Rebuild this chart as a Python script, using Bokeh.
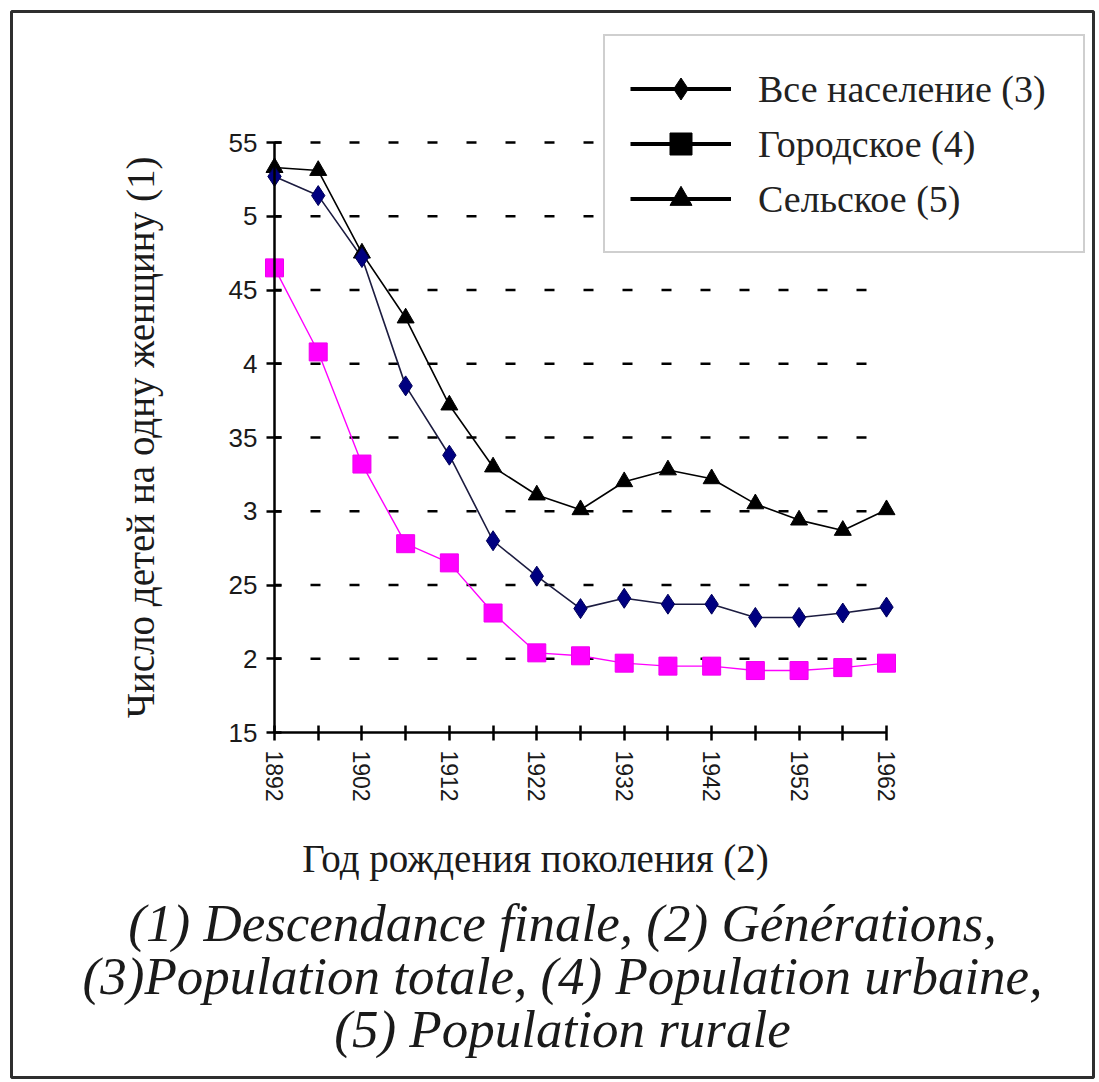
import math
from bokeh.plotting import figure
from bokeh.models import (Range1d, LinearAxis, FixedTicker, Label, Legend, LegendItem,
                          BoxAnnotation)
from bokeh.embed import file_html
from bokeh.resources import INLINE

# ---------------- data ----------------
years = [1892, 1897, 1902, 1907, 1912, 1917, 1922, 1927, 1932, 1937, 1942, 1947, 1952, 1957, 1962]
total = [5.27, 5.14, 4.72, 3.85, 3.38, 2.80, 2.56, 2.34, 2.41, 2.37, 2.37, 2.28, 2.28, 2.31, 2.35]
urban = [4.65, 4.08, 3.32, 2.78, 2.65, 2.31, 2.04, 2.02, 1.97, 1.95, 1.95, 1.92, 1.92, 1.94, 1.97]
rural = [5.33, 5.31, 4.75, 4.31, 3.72, 3.30, 3.11, 3.01, 3.20, 3.28, 3.22, 3.05, 2.94, 2.87, 3.01]

y_ticks = [1.5, 2.0, 2.5, 3.0, 3.5, 4.0, 4.5, 5.0, 5.5]
y_tick_labels = ["15", "2", "25", "3", "35", "4", "45", "5", "55"]
x_label_ticks = [1892, 1902, 1912, 1922, 1932, 1942, 1952, 1962]
x_minor_ticks = [1897, 1907, 1917, 1927, 1937, 1947, 1957]

series_names = ["Все население (3)", "Городское (4)", "Сельское (5)"]
y_title = "Число детей на одну женщину (1)"
x_title = "Год рождения поколения (2)"
caption = ["(1) Descendance finale, (2) Générations,",
           "(3)Population totale, (4) Population urbaine,",
           "(5) Population rurale"]

# ---------------- layout ----------------
W, H = 1099, 1082
PX_X0, PX_X1 = 274, 886        # page px of first / last year
PX_Y15, PX_YSTEP = 732, 147.5  # page px of y=1.5, px per unit
GRID_END = 1960                # dashed reference lines stop here
sx = (PX_X1 - PX_X0) / (years[-1] - years[0])
x_start = years[0] - PX_X0 / sx
x_end = x_start + W / sx
y_start = 1.5 - (H - PX_Y15) / PX_YSTEP
y_end = y_start + H / PX_YSTEP


def X(px):
    return x_start + px / sx


def Y(py):
    return y_start + (H - py) / PX_YSTEP


p = figure(width=W, height=H, output_backend="svg", toolbar_location=None,
           x_axis_type=None, y_axis_type=None,
           x_range=Range1d(x_start, x_end), y_range=Range1d(y_start, y_end),
           min_border=0, min_border_left=0, min_border_bottom=0,
           min_border_top=0, min_border_right=0)
p.outline_line_color = None
p.background_fill_color = "white"
p.border_fill_color = "white"

# outer frame
p.add_layout(BoxAnnotation(left=X(11), right=X(1093), top=Y(11), bottom=Y(1077),
                           fill_alpha=0, line_color="#2e2e2e", line_alpha=1, line_width=3))

# dashed reference lines
p.segment(x0=[years[0]] * (len(y_ticks) - 1), y0=y_ticks[1:],
          x1=[GRID_END] * (len(y_ticks) - 1), y1=y_ticks[1:],
          line_color="black", line_width=2.5, line_dash="10 29", line_dash_offset=3)

# axes
yax = LinearAxis(ticker=FixedTicker(ticks=y_ticks),
                 major_label_overrides={t: l for t, l in zip(y_ticks, y_tick_labels)},
                 fixed_location=years[0], bounds=(1.5, 5.5))
xax = LinearAxis(ticker=FixedTicker(ticks=x_label_ticks, minor_ticks=x_minor_ticks),
                 fixed_location=1.5, bounds=(years[0], years[-1]))
for ax in (xax, yax):
    ax.axis_line_width = 2.5
    ax.axis_line_color = "black"
    ax.major_tick_line_width = 2.5
    ax.major_tick_line_color = "black"
    ax.major_tick_in = 7
    ax.major_tick_out = 8
    ax.major_label_text_font = "Liberation Sans"
    ax.major_label_text_color = "#1a1a1a"
yax.major_label_text_font_size = "26px"
yax.major_label_standoff = 9
xax.major_label_text_font_size = "23px"
xax.major_label_standoff = 10
xax.major_label_orientation = "vertical"
xax.minor_tick_line_width = 2.5
xax.minor_tick_line_color = "black"
xax.minor_tick_in = 7
xax.minor_tick_out = 8
p.add_layout(yax, "left")
p.add_layout(xax, "below")

# series
p.line(years, rural, line_color="black", line_width=1.6)
p.line(years, total, line_color="#1c1c40", line_width=1.6)
p.line(years, urban, line_color="#ff00ff", line_width=1.4)
p.scatter(years, rural, marker="triangle", size=17, fill_color="black", line_color="black")
p.scatter(years, total, marker="diamond", size=20, fill_color="#000080", line_color="#00005a")
p.scatter(years, urban, marker="square", size=18, fill_color="#ff00ff", line_color="#ee00ee")

# legend (black samples as in the reference)
nan = float("nan")
items = []
for name, mk in zip(series_names, ["diamond", "square", "triangle"]):
    lr = p.line(x=[nan], y=[nan], line_color="black", line_width=4)
    sr = p.scatter(x=[nan], y=[nan], marker=mk, fill_color="black", line_color="black")
    items.append(LegendItem(label=name, renderers=[lr, sr]))
legend = Legend(items=items, location=(603, H - 253),
                padding=25, spacing=0, margin=0,
                glyph_width=101, glyph_height=55, label_height=55, label_width=300,
                label_standoff=27,
                label_text_font="Liberation Serif", label_text_font_size="38px",
                label_text_color="#222222", label_text_baseline="middle",
                border_line_color="#a0a0a0", border_line_width=2,
                background_fill_color="white", background_fill_alpha=1)
p.add_layout(legend)

# titles
font = "Liberation Serif"
p.add_layout(Label(x=X(140), y=Y(437), text=y_title, angle=math.pi / 2,
                   text_align="center", text_baseline="middle",
                   text_font=font, text_font_size="39px", text_color="#1a1a1a"))
p.add_layout(Label(x=X(535), y=Y(858), text=x_title,
                   text_align="center", text_baseline="middle",
                   text_font=font, text_font_size="39px", text_color="#1a1a1a"))
for txt, py in zip(caption, [922, 975, 1028]):
    p.add_layout(Label(x=X(562), y=Y(py), text=txt,
                       text_align="center", text_baseline="middle",
                       text_font=font, text_font_style="italic",
                       text_font_size="53px", text_color="#1a1a1a"))

open("out.html", "w").write(file_html(p, INLINE))
